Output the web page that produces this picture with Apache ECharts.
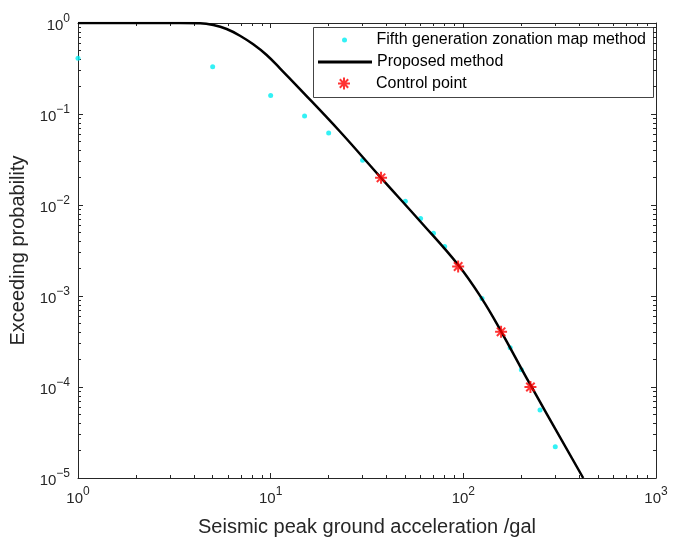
<!DOCTYPE html>
<html>
<head>
<meta charset="utf-8">
<script src="https://cdn.jsdelivr.net/npm/echarts@6/dist/echarts.min.js"></script>
<style>
  html, body { margin: 0; padding: 0; background: #fff; }
  #main { width: 673px; height: 540px; }
</style>
</head>
<body>
<div id="main"></div>
<script>
var myChart = echarts.init(document.getElementById('main'));

// fifth generation zonation map method (cyan dots)
var fifthX = [1, 5, 10, 15, 20, 30, 50, 60, 70, 80, 125, 175, 200, 250, 300];
var fifthY = [0.41, 0.33, 0.16, 0.095, 0.062, 0.031, 0.011, 0.0071, 0.0049, 0.0035, 0.00094, 0.00027, 0.000155, 0.000056, 0.000022];

// proposed method (black curve)
var propX = [1, 2, 3.38, 4.3, 5.04, 5.91, 6.93, 8.12, 9.53, 11.17, 14.19, 22.88, 36.92, 59.5, 94.1, 124.5, 154.9, 221.6, 419];
var propY = [1, 1, 1, 0.995, 0.951, 0.859, 0.725, 0.583, 0.445, 0.318, 0.188, 0.0642, 0.0205, 0.00667, 0.00219, 0.000943, 0.000431, 0.000108, 0.00001];

// control points (red asterisks)
var ctrlX = [37.4, 94, 157, 223];
var ctrlY = [0.0199, 0.00211, 0.000404, 0.0001];

var xMajor = [1, 10, 100, 1000];
var yMajor = [0.00001, 0.0001, 0.001, 0.01, 0.1, 1];

var xMinor = [];
var yMinor = [];
[1, 10, 100].forEach(function (d) {
    for (var k = 2; k <= 9; k++) xMinor.push(k * d);
});
[0.00001, 0.0001, 0.001, 0.01, 0.1].forEach(function (d) {
    for (var k = 2; k <= 9; k++) yMinor.push(k * d);
});

function zip(xs, ys) {
    return xs.map(function (x, i) { return [x, ys[i]]; });
}

var fontFamily = 'Liberation Sans, Arial, sans-serif';
var ink = '#262626';

var powLabel = {
    show: true,
    color: ink,
    fontFamily: fontFamily,
    formatter: function (v) {
        var e = Math.round(Math.log(v) / Math.LN10);
        return '{b|10}{s|' + String(e).replace('-', '\u2212') + '}';
    },
    rich: {
        b: { fontSize: 15, fontFamily: fontFamily, color: ink, lineHeight: 20, verticalAlign: 'bottom' },
        s: { fontSize: 12, fontFamily: fontFamily, color: ink, lineHeight: 20, verticalAlign: 'top' }
    }
};

function logAxis(opts) {
    var base = {
        type: 'log',
        logBase: 10,
        gridIndex: 0,
        splitLine: { show: false },
        axisLine: { show: true, onZero: false, lineStyle: { color: ink, width: 1 } },
        axisTick: { show: true, inside: true, length: 5, lineStyle: { color: ink } },
        axisLabel: { show: false },
        axisPointer: { show: false }
    };
    return Object.assign(base, opts);
}

var asterisk = 'path://M0,-10L0,10M-10,0L10,0M-7,-7L7,7M-7,7L7,-7';
var legendText = { fontSize: 16, lineHeight: 18, fontFamily: fontFamily, color: '#000' };

option = {
    backgroundColor: '#ffffff',
    animation: false,
    grid: { left: 78, top: 23, right: 17, bottom: 62, containLabel: false, outerBoundsMode: 'none' },
    xAxis: [
        logAxis({
            min: 1, max: 1000, position: 'bottom',
            axisTick: { show: true, inside: true, length: 5, customValues: xMajor, lineStyle: { color: ink } },
            axisLabel: Object.assign({ margin: 8, customValues: xMajor }, powLabel),
            name: 'Seismic peak ground acceleration /gal',
            nameLocation: 'middle',
            nameGap: 39,
            nameTextStyle: { fontSize: 20, fontFamily: fontFamily, color: ink }
        }),
        logAxis({
            min: 1, max: 1000, position: 'bottom',
            axisLine: { show: false },
            axisTick: { show: true, inside: true, length: 3, customValues: xMinor, lineStyle: { color: ink } }
        }),
        logAxis({
            min: 1, max: 1000, position: 'top',
            axisTick: { show: true, inside: true, length: 5, customValues: xMajor, lineStyle: { color: ink } }
        }),
        logAxis({
            min: 1, max: 1000, position: 'top',
            axisLine: { show: false },
            axisTick: { show: true, inside: true, length: 3, customValues: xMinor, lineStyle: { color: ink } }
        })
    ],
    yAxis: [
        logAxis({
            min: 0.00001, max: 1, position: 'left',
            axisTick: { show: true, inside: true, length: 5, customValues: yMajor, lineStyle: { color: ink } },
            axisLabel: Object.assign({ margin: 8, customValues: yMajor }, powLabel),
            name: 'Exceeding probability',
            nameLocation: 'middle',
            nameGap: 46,
            nameRotate: 90,
            nameTextStyle: { fontSize: 20, fontFamily: fontFamily, color: ink }
        }),
        logAxis({
            min: 0.00001, max: 1, position: 'left',
            axisLine: { show: false },
            axisTick: { show: true, inside: true, length: 3, customValues: yMinor, lineStyle: { color: ink } }
        }),
        logAxis({
            min: 0.00001, max: 1, position: 'right',
            axisTick: { show: true, inside: true, length: 5, customValues: yMajor, lineStyle: { color: ink } }
        }),
        logAxis({
            min: 0.00001, max: 1, position: 'right',
            axisLine: { show: false },
            axisTick: { show: true, inside: true, length: 3, customValues: yMinor, lineStyle: { color: ink } }
        })
    ],
    legend: [
        {
            data: ['Fifth generation zonation map method'],
            left: 342, top: 31, padding: 0,
            itemWidth: 54, itemHeight: 5, itemGap: 0,
            selectedMode: false,
            textStyle: legendText
        },
        {
            data: [{ name: 'Proposed method', icon: 'rect' }],
            left: 318, top: 53, padding: 0,
            itemWidth: 54, itemHeight: 3, itemGap: 0,
            selectedMode: false,
            textStyle: legendText
        },
        {
            data: ['Control point'],
            left: 337, top: 74.5, padding: 0,
            itemWidth: 54, itemHeight: 12, itemGap: 0,
            selectedMode: false,
            textStyle: legendText
        }
    ],
    graphic: [
        {
            type: 'rect',
            shape: { x: 313.5, y: 27.5, width: 340, height: 70 },
            style: { fill: '#ffffff', stroke: '#444', lineWidth: 1 },
            z: 0, zlevel: 0
        }
    ],
    series: [
        {
            name: 'Fifth generation zonation map method',
            type: 'scatter',
            xAxisIndex: 0, yAxisIndex: 0,
            symbol: 'circle',
            symbolSize: 5,
            itemStyle: { color: '#00eef2' },
            data: zip(fifthX, fifthY),
            z: 3
        },
        {
            name: 'Proposed method',
            type: 'line',
            xAxisIndex: 0, yAxisIndex: 0,
            showSymbol: false,
            symbol: 'none',
            smooth: 0.4,
            lineStyle: { color: '#000', width: 2.5 },
            itemStyle: { color: '#000' },
            data: zip(propX, propY),
            z: 4
        },
        {
            name: 'Control point',
            type: 'scatter',
            xAxisIndex: 0, yAxisIndex: 0,
            symbol: asterisk,
            symbolSize: 12,
            itemStyle: { color: 'rgba(0,0,0,0)', borderColor: '#ff0000', borderWidth: 2 },
            data: zip(ctrlX, ctrlY),
            z: 5
        }
    ]
};

myChart.setOption(option);
</script>
</body>
</html>
